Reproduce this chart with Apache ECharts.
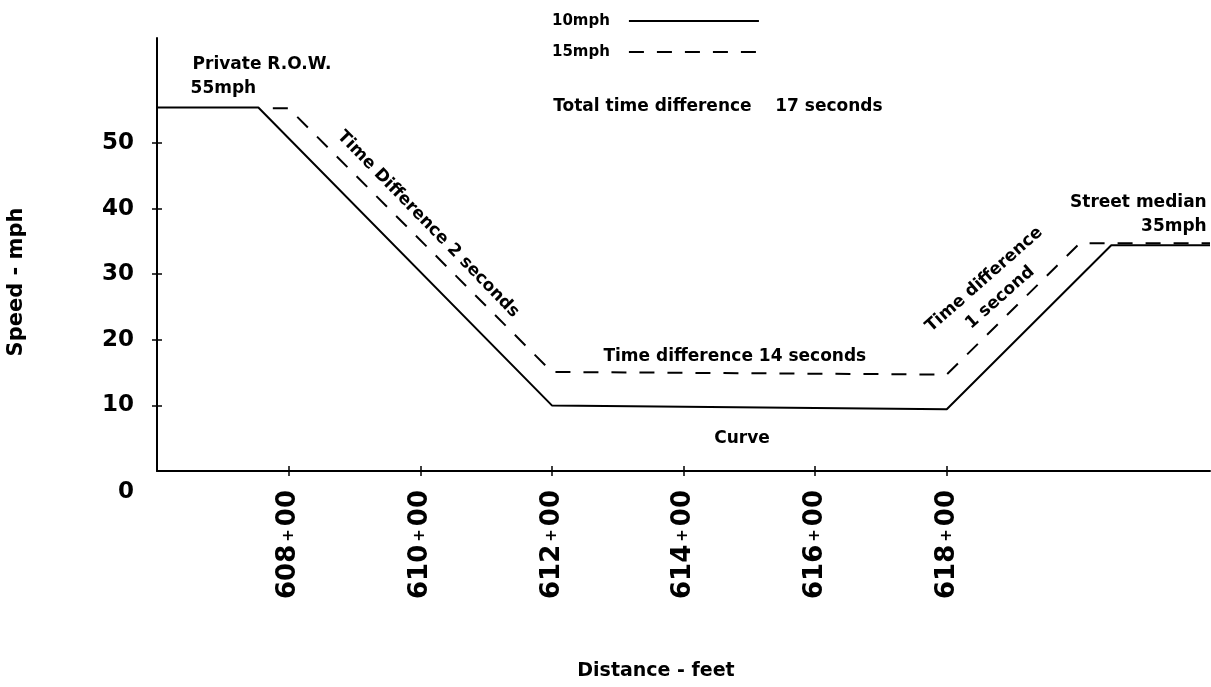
<!DOCTYPE html>
<html><head><meta charset="utf-8">
<script src="https://cdn.jsdelivr.net/npm/echarts@6/dist/echarts.min.js"></script>
<style>html,body{margin:0;padding:0;background:#fff}#c{width:1211px;height:687px}</style>
</head><body><div id="c"></div>
<script>
// Data (distance in stations of 100 ft, speed in mph)
const distance10 = [606, 607.54, 612, 618, 620.5, 622];
const speed10    = [55.4, 55.4, 10.0, 9.4, 34.4, 34.4];
const distance15 = [607.76, 608, 612, 618, 620.02, 622];
const speed15    = [55.3, 55.3, 15.1, 14.7, 34.7, 34.7];
const xTicks = [608, 610, 612, 614, 616, 618];
const yTicks = [10, 20, 30, 40, 50];
const yLabels = [0, 10, 20, 30, 40, 50];

const FONT = 'DejaVu Sans';
const notes = [
  { text: 'Private R.O.W.', at: [606.54, 61.9], align: 'left', rot: 0 },
  { text: '55mph', at: [606.51, 58.3], align: 'left', rot: 0 },
  { text: 'Total time difference    17 seconds', at: [612.02, 55.6], align: 'left', rot: 0 },
  { text: 'Time Difference 2 seconds', at: [610.12, 37.6], align: 'center', rot: -45.8 },
  { text: 'Time difference 14 seconds', at: [614.78, 17.5], align: 'center', rot: 0 },
  { text: 'Curve', at: [614.89, 4.97], align: 'center', rot: 0 },
  { text: 'Time difference\n1 second', at: [618.69, 27.8], align: 'center', rot: 41.4 },
  { text: 'Street median', at: [621.95, 40.9], align: 'right', rot: 0 },
  { text: '35mph', at: [621.95, 37.2], align: 'right', rot: 0 }
];

const chart = echarts.init(document.getElementById('c'), null, { renderer: 'canvas' });
const black = '#000';
const xBase = { type: 'value', min: 606, max: 622, interval: 2, position: 'bottom', splitLine: { show: false } };
const yBase = { type: 'value', min: 0, max: 66, interval: 10, position: 'left', splitLine: { show: false } };

chart.setOption({
  backgroundColor: '#fff',
  animation: false,
  grid: { left: 157, right: 1, top: 38, bottom: 216 },
  legend: {
    orient: 'vertical', left: 547, top: 8.5, align: 'right',
    itemWidth: 130, itemHeight: 14, itemGap: 16,
    itemStyle: { opacity: 0 },
    textStyle: { fontFamily: FONT, fontWeight: 'bold', fontSize: 15, color: black, padding: [0, 14, 0, 0] },
    data: ['10mph', '15mph']
  },
  xAxis: [
    Object.assign({}, xBase, {
      axisLine: { show: true, lineStyle: { color: black, width: 2 } },
      axisTick: { show: true, inside: true, length: 5, customValues: xTicks, lineStyle: { color: black, width: 1.5 } },
      axisLabel: {
        show: true, customValues: xTicks, rotate: 90, margin: 19,
        color: black, fontFamily: FONT, fontWeight: 'bold', fontSize: 26,
        formatter: v => String(v) + '{p|+}00',
        rich: { p: { fontFamily: FONT, fontWeight: 'bold', fontSize: 15, color: black, padding: [0, 3, 0, 3] } }
      }
    }),
    Object.assign({}, xBase, {
      axisLine: { show: false },
      axisTick: { show: true, inside: false, length: 5, customValues: xTicks, lineStyle: { color: black, width: 1.5 } },
      axisLabel: { show: false }
    })
  ],
  yAxis: [
    Object.assign({}, yBase, {
      axisLine: { show: true, lineStyle: { color: black, width: 2 } },
      axisTick: { show: true, inside: true, length: 5, customValues: yTicks, lineStyle: { color: black, width: 1.5 } },
      axisLabel: {
        show: true, customValues: yLabels, margin: 23,
        color: black, fontFamily: FONT, fontWeight: 'bold', fontSize: 23,
        formatter: v => v === 0 ? '{z|0}' : String(v),
        rich: { z: { fontFamily: FONT, fontWeight: 'bold', fontSize: 23, color: black, padding: [43, 0, 0, 0] } }
      }
    }),
    Object.assign({}, yBase, {
      axisLine: { show: false },
      axisTick: { show: true, inside: false, length: 5, customValues: yTicks, lineStyle: { color: black, width: 1.5 } },
      axisLabel: { show: false }
    })
  ],
  series: [
    {
      name: '10mph', type: 'line', xAxisIndex: 0, yAxisIndex: 0,
      data: distance10.map((d, i) => [d, speed10[i]]),
      symbol: 'none', lineStyle: { color: black, width: 2, type: 'solid' }, itemStyle: { color: black }
    },
    {
      name: '15mph', type: 'line', xAxisIndex: 0, yAxisIndex: 0,
      data: distance15.map((d, i) => [d, speed15[i]]),
      symbol: 'none', lineStyle: { color: black, width: 2, type: [15, 13] }, itemStyle: { color: black }
    }
  ]
});

const graphics = notes.map(n => {
  const p = chart.convertToPixel({ xAxisIndex: 0, yAxisIndex: 0 }, n.at);
  return {
    type: 'text', x: p[0], y: p[1], rotation: n.rot * Math.PI / 180,
    style: {
      text: n.text, align: n.align, verticalAlign: 'middle', lineHeight: 24,
      fontFamily: FONT, fontWeight: 'bold', fontSize: 17, fill: black
    }
  };
});
graphics.push({
  type: 'text', x: 17, y: 282, rotation: Math.PI / 2,
  style: { text: 'Speed - mph', align: 'center', verticalAlign: 'middle', fontFamily: FONT, fontWeight: 'bold', fontSize: 21, fill: black }
});
graphics.push({
  type: 'text', x: 656, y: 671,
  style: { text: 'Distance - feet', align: 'center', verticalAlign: 'middle', fontFamily: FONT, fontWeight: 'bold', fontSize: 19, fill: black }
});
chart.setOption({ graphic: graphics });
</script>
</body></html>
